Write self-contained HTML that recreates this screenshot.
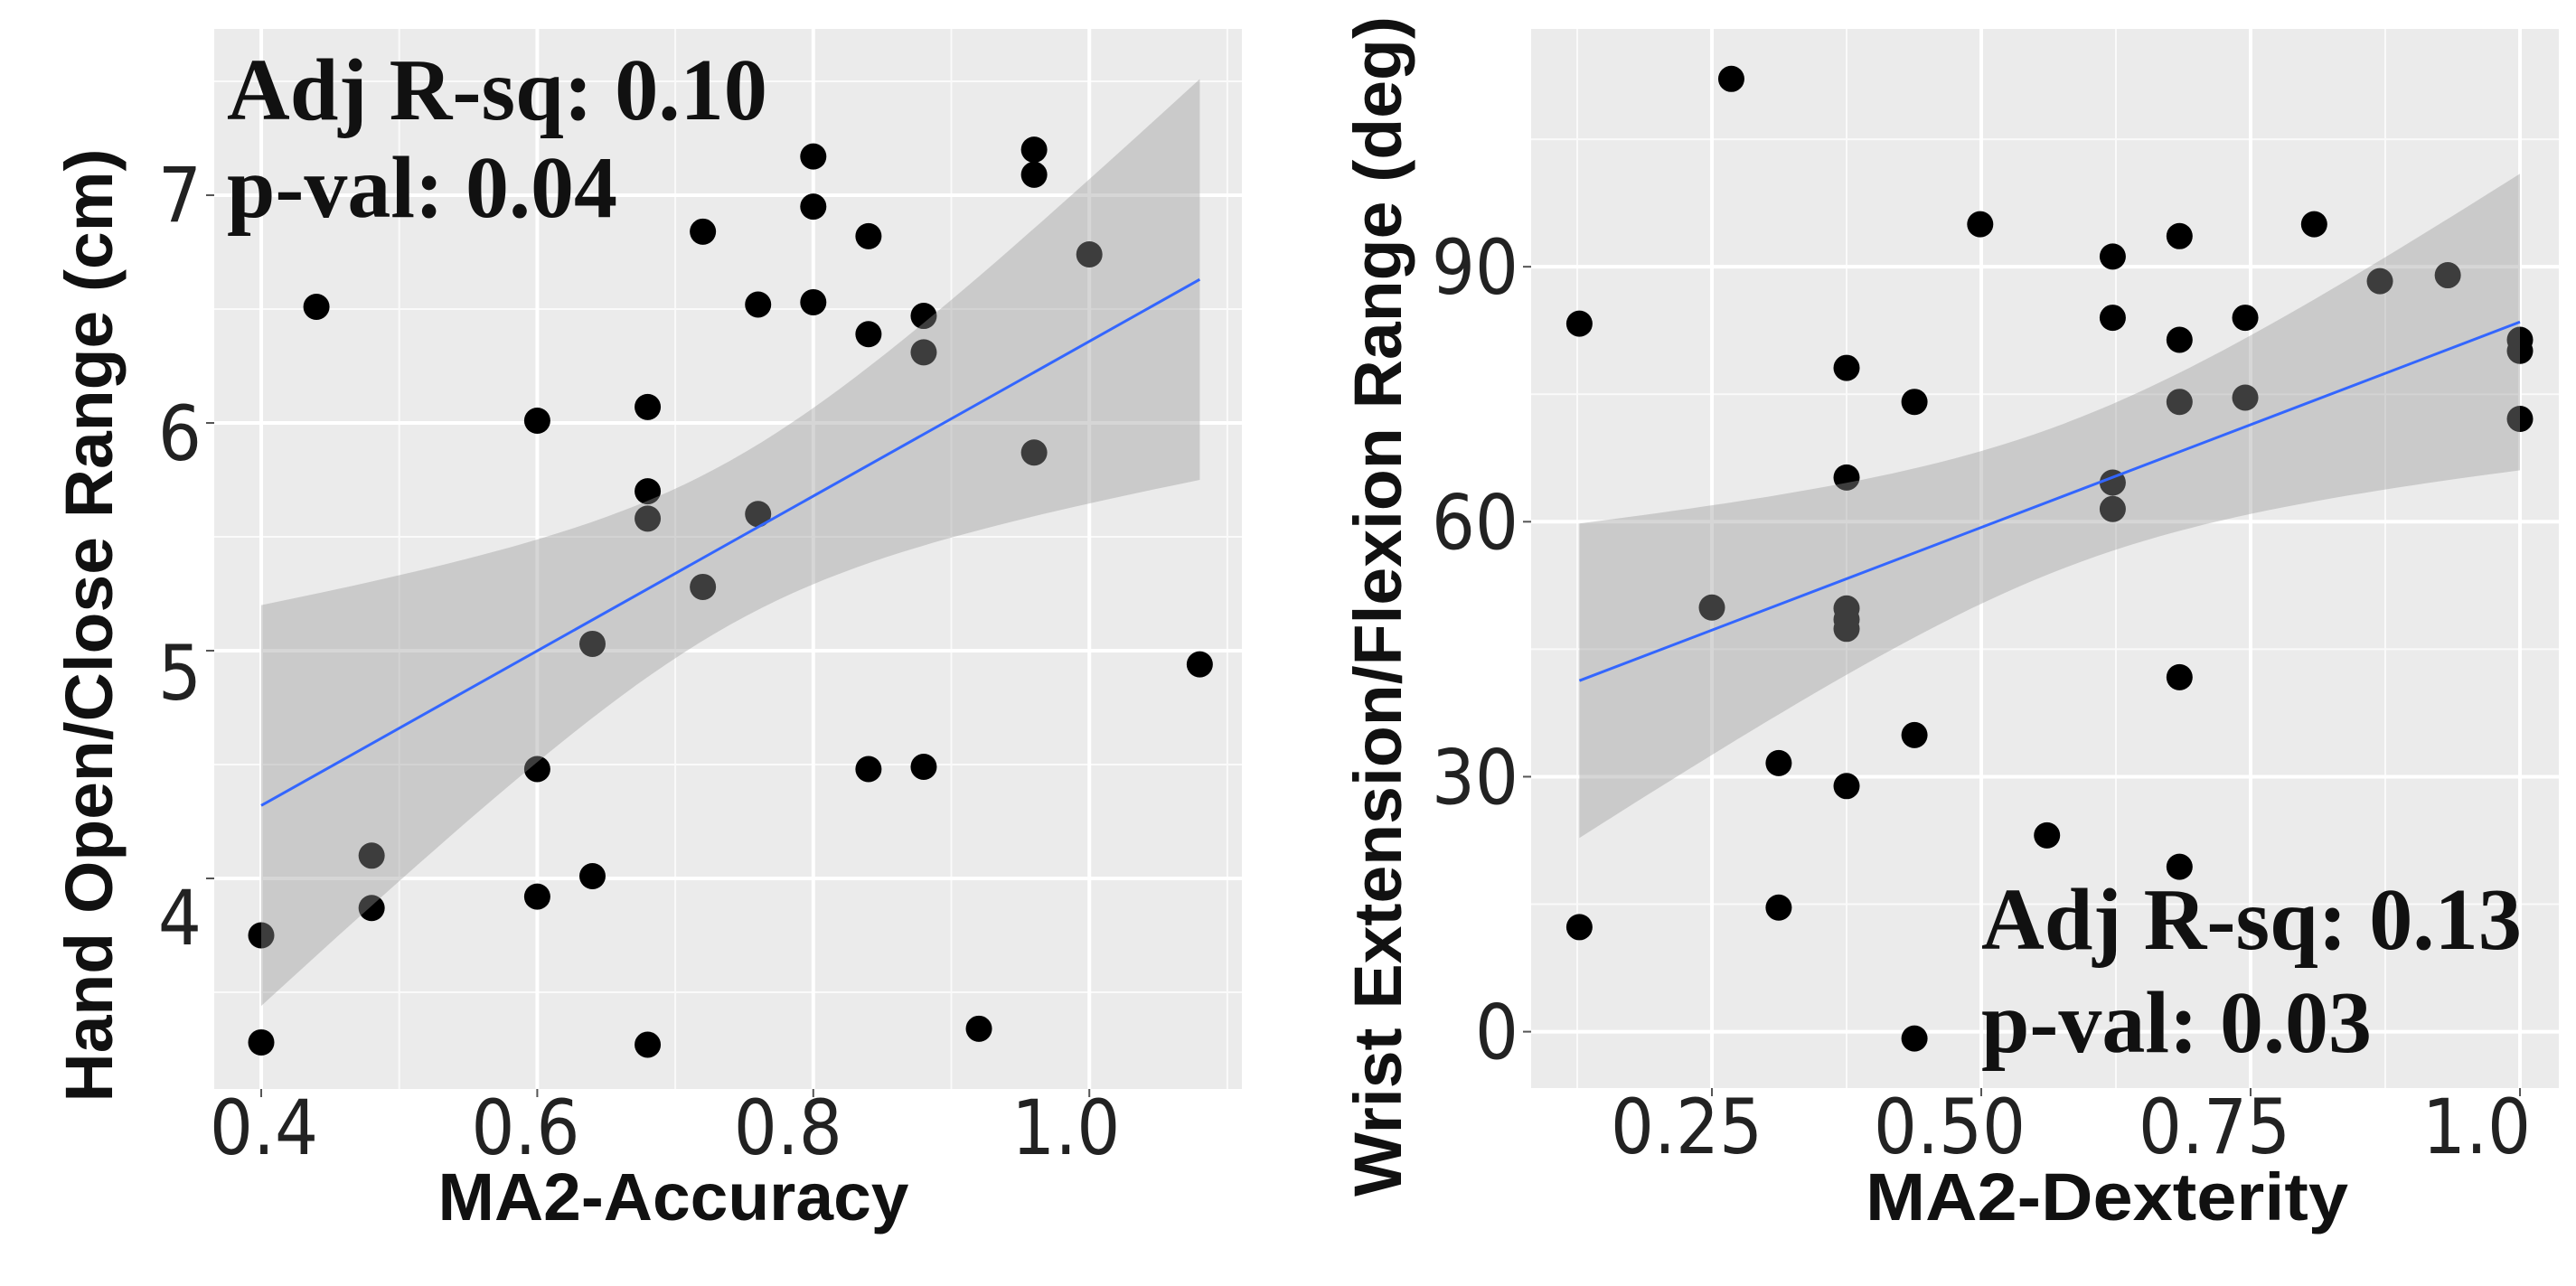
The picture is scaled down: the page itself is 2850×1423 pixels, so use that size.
<!DOCTYPE html>
<html><head><meta charset="utf-8"><style>
html,body{margin:0;padding:0;background:#fff;}
svg{display:block;}
</style></head><body>
<svg id="chart" xmlns="http://www.w3.org/2000/svg" width="2850" height="1423" viewBox="0 0 2850 1423">
<rect x="0" y="0" width="2850" height="1423" fill="#fff"/>
</svg>
<script>
// Left panel data
const accX = [0.44,0.60,0.60,0.60,0.40,0.40,0.48,0.48,0.64,0.64,0.68,0.68,0.68,0.68,0.72,0.72,0.76,0.76,0.80,0.80,0.80,0.84,0.84,0.84,0.88,0.88,0.88,0.92,0.96,0.96,0.96,1.00,1.08];
const accY = [6.51,6.01,4.48,3.92,3.75,3.28,4.10,3.87,5.03,4.01,6.07,5.70,5.58,3.27,6.84,5.28,6.52,5.60,7.17,6.95,6.53,6.82,6.39,4.48,6.47,6.31,4.49,3.34,7.20,7.09,5.87,6.74,4.94];
const accFitX = [0.40,1.08];
const accFitY = [4.32,6.63];
const accBand = [0.74,0.36,0.88]; // center x, min half-width, half-width at ends
const accXTicks = [0.4,0.6,0.8,1.0];
const accXTickLabels = ["0.4","0.6","0.8","1.0"];
const accYTicks = [4,5,6,7];
const accYTickLabels = ["4","5","6","7"];
// Right panel data
const dexX = [0.127,0.127,0.268,0.25,0.312,0.312,0.375,0.375,0.375,0.375,0.375,0.375,0.438,0.438,0.438,0.499,0.561,0.622,0.622,0.622,0.622,0.684,0.684,0.684,0.684,0.684,0.745,0.745,0.809,0.87,0.933,1.0,1.0,1.0];
const dexY = [83.3,12.3,112.1,49.9,31.6,14.6,78.1,65.2,49.8,48.5,47.4,28.9,74.1,34.9,-0.8,95.0,23.1,91.2,84.0,64.6,61.5,93.6,81.4,74.1,41.7,19.4,84.0,74.6,95.0,88.3,89.0,81.4,80.1,72.1];
const dexFitX = [0.127,1.0];
const dexFitY = [41.3,83.5];
const dexBand = [0.58,8.5,18.5];
const dexXTicks = [0.25,0.50,0.75,1.0];
const dexXTickLabels = ["0.25","0.50","0.75","1.0"];
const dexYTicks = [0,30,60,90];
const dexYTickLabels = ["0","30","60","90"];

const NS = "http://www.w3.org/2000/svg";
const svg = document.getElementById('chart');
function mk(tag, attrs, parent){
  const e = document.createElementNS(NS, tag);
  for (const k in attrs) e.setAttribute(k, attrs[k]);
  (parent||svg).appendChild(e);
  return e;
}

function panel(cfg){
  const g = mk('g', {});
  
  
  const sx = v => cfg.x0 + (v - cfg.xv0) * cfg.xs;
  const sy = v => cfg.y0 - (v - cfg.yv0) * cfg.ys;
  const bg = mk('rect', {x:cfg.L, y:cfg.T, width:cfg.R-cfg.L, height:cfg.B-cfg.T, fill:'#ebebeb'}, g);
  
  
  cfg.xMinor.forEach(v => { const x=sx(v); if(x>cfg.L&&x<cfg.R){ const l=mk('line',{x1:x,x2:x,y1:cfg.T,y2:cfg.B,stroke:'#fafafa','stroke-width':2},g);  }});
  cfg.yMinor.forEach(v => { const y=sy(v); if(y>cfg.T&&y<cfg.B){ const l=mk('line',{x1:cfg.L,x2:cfg.R,y1:y,y2:y,stroke:'#fafafa','stroke-width':2},g);  }});
  cfg.xTicks.forEach((v,i) => {
    const x=sx(v);
    const l=mk('line',{x1:x,x2:x,y1:cfg.T,y2:cfg.B,stroke:'#fff','stroke-width':4},g);
     
    const t=mk('line',{x1:x,x2:x,y1:cfg.B,y2:cfg.B+9,stroke:'#555','stroke-width':2},g);
     
    const tx=mk('text',{x:x+cfg.xLabOff[i],y:cfg.B+72,'text-anchor':'middle','font-family':'"DejaVu Sans Condensed","Liberation Sans",sans-serif','font-size':84,fill:'#222'},g);
    tx.textContent=cfg.xLabels[i];
     
  });
  cfg.yTicks.forEach((v,i) => {
    const y=sy(v);
    const l=mk('line',{x1:cfg.L,x2:cfg.R,y1:y,y2:y,stroke:'#fff','stroke-width':4},g);
     
    const t=mk('line',{x1:cfg.L-9,x2:cfg.L,y1:y,y2:y,stroke:'#555','stroke-width':2},g);
     
    const tx=mk('text',{x:cfg.L-14,y:y+30+cfg.yLabOff[i],'text-anchor':'end','font-family':'"DejaVu Sans Condensed","Liberation Sans",sans-serif','font-size':84,fill:'#222'},g);
    tx.textContent=cfg.yLabels[i];
     
  });
  cfg.px.forEach((v,i) => {
    const c=mk('circle',{cx:sx(v),cy:sy(cfg.py[i]),r:14.5,fill:'#000'},g);
     
  });
  const [bc,bmin,bend] = cfg.band;
  const d0 = Math.max(Math.abs(cfg.fx[0]-bc), Math.abs(cfg.fx[1]-bc));
  const bcoef = (bend*bend - bmin*bmin)/(d0*d0);
  const slope = (cfg.fy[1]-cfg.fy[0])/(cfg.fx[1]-cfg.fx[0]);
  const up=[], lo=[];
  for (let k=0;k<=60;k++){
    const xv = cfg.fx[0] + (cfg.fx[1]-cfg.fx[0])*k/60;
    const yv = cfg.fy[0] + slope*(xv-cfg.fx[0]);
    const h = Math.sqrt(bmin*bmin + bcoef*(xv-bc)*(xv-bc));
    up.push(sx(xv).toFixed(1)+','+sy(yv+h).toFixed(1));
    lo.unshift(sx(xv).toFixed(1)+','+sy(yv-h).toFixed(1));
  }
  const band=mk('polygon',{points:up.concat(lo).join(' '),fill:'#999999','fill-opacity':0.4},g);
   
  const fl=mk('line',{x1:sx(cfg.fx[0]),y1:sy(cfg.fy[0]),x2:sx(cfg.fx[1]),y2:sy(cfg.fy[1]),stroke:'#3366ff','stroke-width':3},g);
   
  cfg.ann.forEach(a => {
    const t=mk('text',{x:a.x,y:a.y,'font-family':'"Liberation Serif",serif','font-weight':'bold','font-size':98,fill:'#111',textLength:a.w,lengthAdjust:'spacingAndGlyphs'},g);
    t.textContent=a.t;
     
  });
  const xt=mk('text',{x:cfg.xTitle.x,y:1350,'text-anchor':'middle','font-family':'"Liberation Sans",sans-serif','font-weight':'bold','font-size':74,fill:'#111',textLength:cfg.xTitle.w,lengthAdjust:'spacingAndGlyphs'},g);
  xt.textContent=cfg.xTitle.t;
   
  const yt=mk('text',{x:0,y:0,'text-anchor':'middle','font-family':'"Liberation Sans",sans-serif','font-weight':'bold','font-size':74,fill:'#111',textLength:cfg.yTitle.w,lengthAdjust:'spacingAndGlyphs',transform:`translate(${cfg.yTitle.x},${cfg.yTitle.y}) rotate(-90)`},g);
  yt.textContent=cfg.yTitle.t;
   
}

panel({
  name:'accuracy-panel', L:237,R:1374,T:32,B:1205,
  x0:289,xv0:0.4,xs:1527, y0:216,yv0:7,ys:252,
  xMinor:[0.3,0.5,0.7,0.9,1.1], yMinor:[3.5,4.5,5.5,6.5,7.5],
  xTicks:accXTicks, xLabels:accXTickLabels, xLabOff:[3,-13,-28,-26],
  yTicks:accYTicks, yLabels:accYTickLabels, yLabOff:[43,24,11,-1],
  px:accX, py:accY, fx:accFitX, fy:accFitY, band:accBand,
  ann:[{x:251,y:132,w:598,t:'Adj R-sq: 0.10',n:'adj-r-squared-label'},{x:251,y:240,w:432,t:'p-val: 0.04',n:'p-value-label'}],
  xTitle:{x:745,w:521,t:'MA2-Accuracy'},
  yTitle:{x:124,y:692,w:1055,t:'Hand Open/Close Range (cm)'}
});
panel({
  name:'dexterity-panel', L:1694,R:2831,T:32,B:1204,
  x0:1894,xv0:0.25,xs:1192, y0:1141.6,yv0:0,ys:9.405,
  xMinor:[0.125,0.375,0.625,0.875], yMinor:[15,45,75,105],
  xTicks:dexXTicks, xLabels:dexXTickLabels, xLabOff:[-28,-35,-40,-48],
  yTicks:dexYTicks, yLabels:dexYTickLabels, yLabOff:[0,0,0,0],
  px:dexX, py:dexY, fx:dexFitX, fy:dexFitY, band:dexBand,
  ann:[{x:2192,y:1050,w:598,t:'Adj R-sq: 0.13',n:'adj-r-squared-label'},{x:2192,y:1164,w:432,t:'p-val: 0.03',n:'p-value-label'}],
  xTitle:{x:2331,w:534,t:'MA2-Dexterity'},
  yTitle:{x:1550,y:671,w:1306,t:'Wrist Extension/Flexion Range (deg)'}
});
</script>
</body></html>
